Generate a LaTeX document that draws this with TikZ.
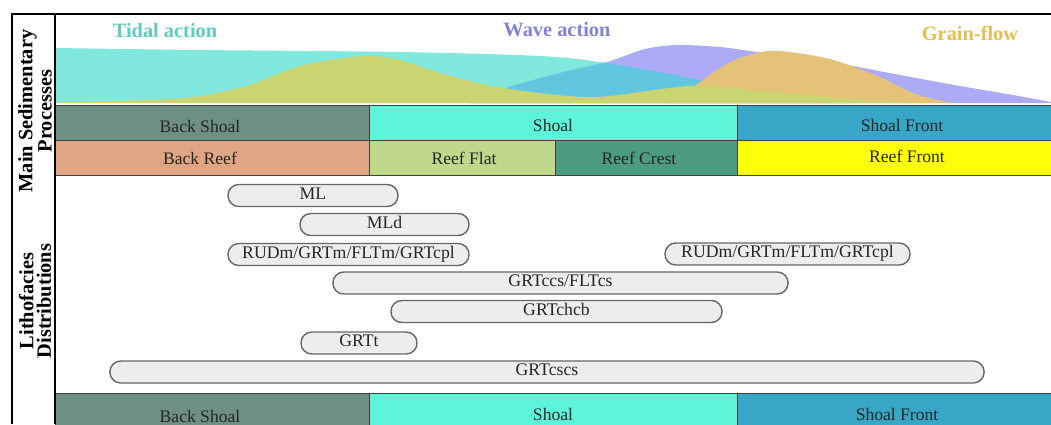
\documentclass[tikz,border=0pt]{standalone}
\usepackage{fontspec}
\setmainfont{Liberation Serif}

\definecolor{tidalfill}{HTML}{80E8DC}
\definecolor{wavefill}{HTML}{ABABF8}
\definecolor{overfill}{HTML}{62C6E0}
\definecolor{grainfill}{HTML}{E4C278}
\definecolor{olivefill}{HTML}{CAD572}
\definecolor{tidaltext}{HTML}{5FCCBF}
\definecolor{wavetext}{HTML}{8282DC}
\definecolor{graintext}{HTML}{E8BE48}
\definecolor{backshoal}{HTML}{6E8F86}
\definecolor{shoal}{HTML}{5CF5DA}
\definecolor{shoalfront}{HTML}{38A6C6}
\definecolor{backreef}{HTML}{E0A684}
\definecolor{reefflat}{HTML}{C0D88A}
\definecolor{reefcrest}{HTML}{4C9C80}
\definecolor{reeffront}{HTML}{FFFF0A}

\tikzset{
	band/.style={draw=black!75, line width=0.6pt},
	bandtext/.style={anchor=base, font=\fontsize{12.5}{14}\selectfont, text=black!85},
	pill/.style={draw=black!60, fill=black!7, line width=1pt, rounded corners=0.27cm,
		minimum height=0.55cm, inner xsep=2pt, inner ysep=0pt, text height=8pt, text depth=2.5pt,
		font=\fontsize{12.6}{14}\selectfont, text=black!85},
	head/.style={font=\fontsize{14.5}{16}\selectfont\bfseries},
	side/.style={font=\fontsize{14.5}{12.5}\selectfont\bfseries, rotate=90, align=center},
	frame/.style={draw=black, line width=1.5pt},
}

% outlines of the process curves
\newcommand{\tidalpath}{(55,103) -- plot[smooth] coordinates {(55,48) (200,50) (400,52) (540,56) (607,63) (700,80) (780,96) (850,103)} -- cycle}
\newcommand{\wavepath}{plot[smooth] coordinates {(470,103) (503,89) (560,73) (607,62) (645,49) (677,45) (720,47) (757,52) (830,62) (900,75) (960,86) (1013,95) (1051,102)} -- (1051,103) -- cycle}
\newcommand{\grainpath}{plot[smooth] coordinates {(670,103) (700,82) (730,62) (757,53) (780,51) (830,59) (880,77) (913,93) (947,102) (965,103)} -- cycle}
\newcommand{\olivepath}{plot[smooth] coordinates {(55,102) (150,100) (200,96) (250,85) (300,66) (363,56) (400,60) (440,73) (503,88) (593,97) (690,86) (760,91) (850,99) (913,103)} -- (55,103) -- cycle}

\begin{document}
\begin{tikzpicture}[x=0.025cm, y=-0.025cm]
	\useasboundingbox (0,0) rectangle (1051,424);

	% processes
	\begin{scope}
		\clip (55,14) rectangle (1051,105);
		\fill[tidalfill] \tidalpath;
		\fill[wavefill] \wavepath;
		\begin{scope}
			\clip \tidalpath;
			\fill[overfill] \wavepath;
		\end{scope}
		\fill[grainfill] \grainpath;
		\fill[olivefill] \olivepath;
	\end{scope}

	\node[head, text=tidaltext] (tidal) at (165,31) {Tidal action};
	\node[head, text=wavetext] (wave) at (557,30) {Wave action};
	\node[head, text=graintext] (grain) at (970,33) {Grain-flow};

	% environments
	\draw[band, fill=backshoal] (55,105) rectangle (369,140);
	\draw[band, fill=shoal] (369,105) rectangle (737,140);
	\draw[band, fill=shoalfront] (737,105) rectangle (1052,140);
	\node[bandtext] (bshoal) at (200,132) {Back Shoal};
	\node[bandtext] (shoal) at (553,131) {Shoal};
	\node[bandtext] (fshoal) at (902,131) {Shoal Front};

	\draw[band, fill=backreef] (55,140) rectangle (369,175);
	\draw[band, fill=reefflat] (369,140) rectangle (555,175);
	\draw[band, fill=reefcrest] (555,140) rectangle (737,175);
	\draw[band, fill=reeffront] (737,140) rectangle (1052,175);
	\node[bandtext] (breef) at (200,164) {Back Reef};
	\node[bandtext] (flat) at (464,164) {Reef Flat};
	\node[bandtext] (crest) at (639,164) {Reef Crest};
	\node[bandtext] (freef) at (907,162) {Reef Front};

	\draw[band, fill=backshoal] (55,393) rectangle (369,430);
	\draw[band, fill=shoal] (369,393) rectangle (737,430);
	\draw[band, fill=shoalfront] (737,393) rectangle (1052,430);
	\node[bandtext] (bshoalb) at (200,422) {Back Shoal};
	\node[bandtext] (shoalb) at (553,420) {Shoal};
	\node[bandtext] (fshoalb) at (897,420) {Shoal Front};

	% lithofacies
	\node[pill, minimum width=4.25cm] (ml) at (313,195.5) {ML};
	\node[pill, minimum width=4.225cm] (mld) at (384.5,224.5) {MLd};
	\node[pill, minimum width=6.025cm] (rudback) at (348.5,254.5) {RUDm/GRTm/FLTm/GRTcpl};
	\node[pill, minimum width=6.125cm] (rudfront) at (787.5,254) {RUDm/GRTm/FLTm/GRTcpl};
	\node[pill, minimum width=11.375cm] (grtccs) at (560.5,283) {GRTccs/FLTcs};
	\node[pill, minimum width=8.275cm] (grtchcb) at (556.5,311.5) {GRTchcb};
	\node[pill, minimum width=2.9cm] (grtt) at (359,343) {GRTt};
	\node[pill, minimum width=21.85cm] (grtcscs) at (547,372) {GRTcscs};

	% frame and side titles
	\draw[frame] (12,424) -- (12,14) -- (1051,14);
	\draw[frame] (55,14) -- (55,424);
	\node[side] (procs) at (35,111) {Main Sedimentary\\Processes};
	\node[side] (litho) at (35,301) {Lithofacies\\Distributions};

\end{tikzpicture}
\end{document}
